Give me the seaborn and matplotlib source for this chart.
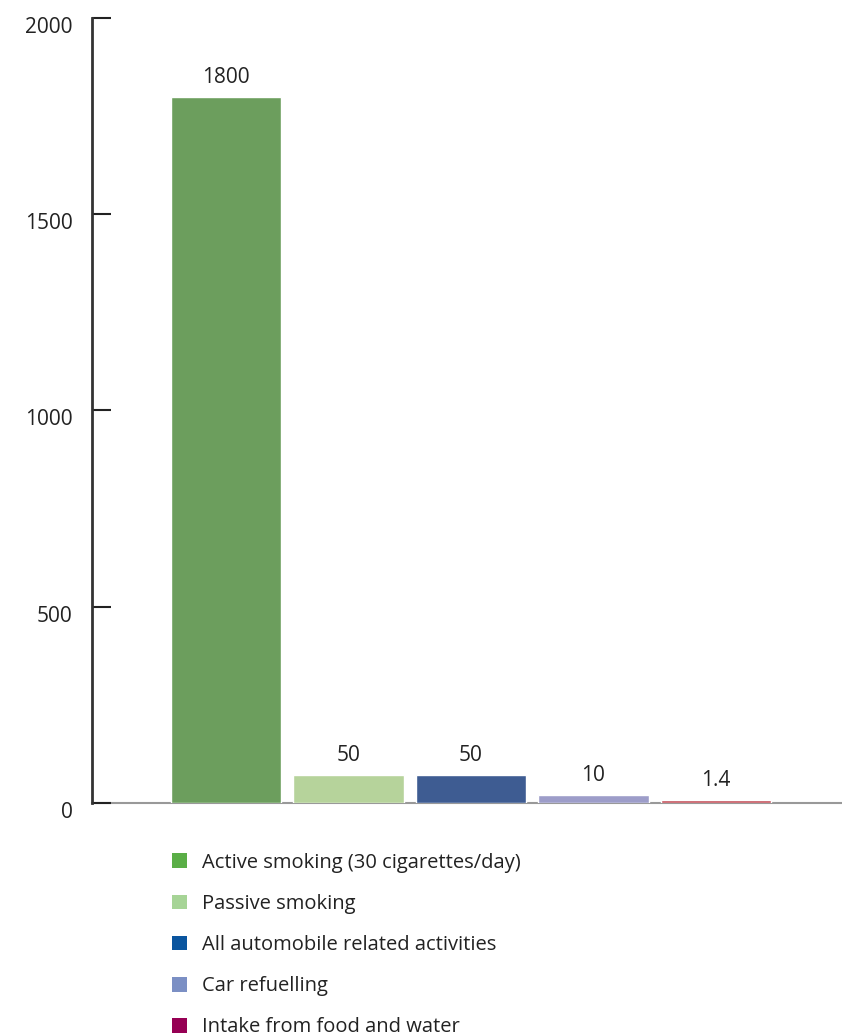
import numpy as np
import pandas as pd
import matplotlib
matplotlib.use("Agg")
import matplotlib.pyplot as plt
from matplotlib.patches import Patch
from matplotlib.transforms import ScaledTranslation
import seaborn as sns

# data
categories = ["Active smoking (30 cigarettes/day)", "Passive smoking",
              "All automobile related activities", "Car refuelling",
              "Intake from food and water"]
labels = ["1800", "50", "50", "10", "1.4"]
# heights as drawn in the original (small bars are exaggerated there)
heights = [1800, 71, 71, 20, 8]
yticks = [0, 500, 1000, 1500, 2000]

bar_colors = ["#6c9e5d", "#b6d39b", "#3e5c92", "#9d9dc9", "#c4525c"]
legend_colors = ["#5aae46", "#a6d496", "#0a559f", "#7b8fc4", "#960054"]

df = pd.DataFrame({"cat": categories, "h": heights})

sns.set_style("white")
plt.rcParams['font.family'] = ['Open Sans', 'DejaVu Sans']

fig = plt.figure(figsize=(8.42, 10.35), dpi=100)
ax = fig.add_axes([0.1093, 0.2242, 0.8907, 0.7584])

sns.barplot(data=df, x="cat", y="h", hue="cat", palette=bar_colors,
            width=0.9, legend=False, ax=ax, saturation=1, zorder=3)

for i, (h, lab) in enumerate(zip(heights, labels)):
    ax.text(i, h + 22, lab, ha="center", va="bottom", fontsize=15, color="#222222")

ax.set_xlim(-1.094, 5.03)
ax.set_ylim(0, 2000)
ax.set_yticks(yticks)
ax.set_yticklabels([str(t) for t in yticks], fontsize=15, color="#222222")
ax.set_xticks([])
ax.set_xlabel("")
ax.set_ylabel("")

ax.tick_params(axis="y", left=True, direction="in", length=14, width=1.5,
               color="#222222", pad=14)
for lbl in ax.get_yticklabels():
    lbl.set_transform(lbl.get_transform() + ScaledTranslation(0, -0.07, fig.dpi_scale_trans))

for s in ["top", "right"]:
    ax.spines[s].set_visible(False)
ax.spines["left"].set_color("#333333")
ax.spines["left"].set_linewidth(2)
ax.spines["bottom"].set_color("#999999")
ax.spines["bottom"].set_linewidth(1.5)
ax.spines["bottom"].set_zorder(0.5)

handles = [Patch(facecolor=c, edgecolor="none") for c in legend_colors]
fig.legend(handles, categories, loc="upper left", bbox_to_anchor=(0.204, 0.176),
           frameon=False, fontsize=14.5, handlelength=0.75, handleheight=0.75,
           handletextpad=0.75, labelspacing=1.05, borderpad=0, borderaxespad=0,
           labelcolor="#222222")

fig.savefig("out.png", dpi=100)
